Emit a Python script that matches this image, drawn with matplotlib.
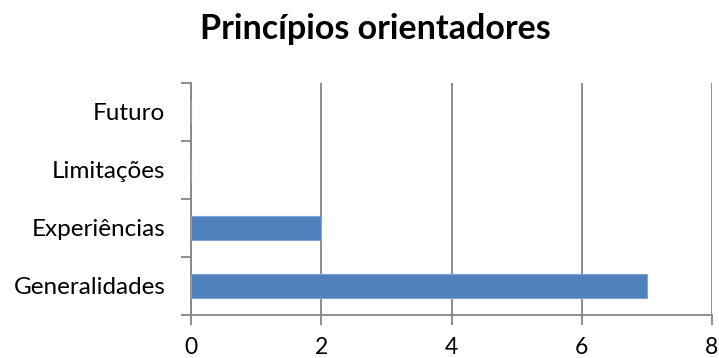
import matplotlib
matplotlib.use("Agg")
import matplotlib.pyplot as plt

categories = ["Generalidades", "Experiências", "Limitações", "Futuro"]
values = [7, 2, 0, 0]
x_ticks = [0, 2, 4, 6, 8]
title = "Princípios orientadores"

plt.rcParams["font.family"] = ["Lato", "DejaVu Sans"]

fig = plt.figure(figsize=(7.19, 3.58), dpi=100)
ax = fig.add_axes([191 / 719, 43 / 358, 521 / 719, 232 / 358])

axis_col = "#868686"
pos = list(range(len(categories)))
ax.barh(pos, values, height=0.42, color="#4F81BD", edgecolor="#7FA3D3",
        linewidth=0.8, zorder=3)

ax.set_xlim(0, 8)
ax.set_ylim(-0.5, len(categories) - 0.5)
ax.set_xticks(x_ticks)
ax.set_xticklabels([str(t) for t in x_ticks])
ax.xaxis.grid(True, color=axis_col, linewidth=1.3, zorder=0)

# category labels centred in bands, ticks on band boundaries
ax.set_yticks(pos)
ax.set_yticklabels(categories)
ax.set_yticks([p - 0.5 for p in pos] + [len(categories) - 0.5], minor=True)
ax.tick_params(axis="y", which="major", length=0, pad=18.5, labelsize=17.5)
ax.tick_params(axis="y", which="minor", length=7, width=1.3, color=axis_col)
ax.tick_params(axis="x", length=7, width=1.3, color=axis_col, pad=9,
               labelsize=16.5)

for side in ("top", "right"):
    ax.spines[side].set_visible(False)
for side in ("left", "bottom"):
    ax.spines[side].set_color(axis_col)
    ax.spines[side].set_linewidth(1.3)

fig.text(375 / 719, 1 - 29 / 358, title, ha="center", va="center",
         fontsize=24.5, fontweight="bold")

fig.savefig("out.png", dpi=100)
